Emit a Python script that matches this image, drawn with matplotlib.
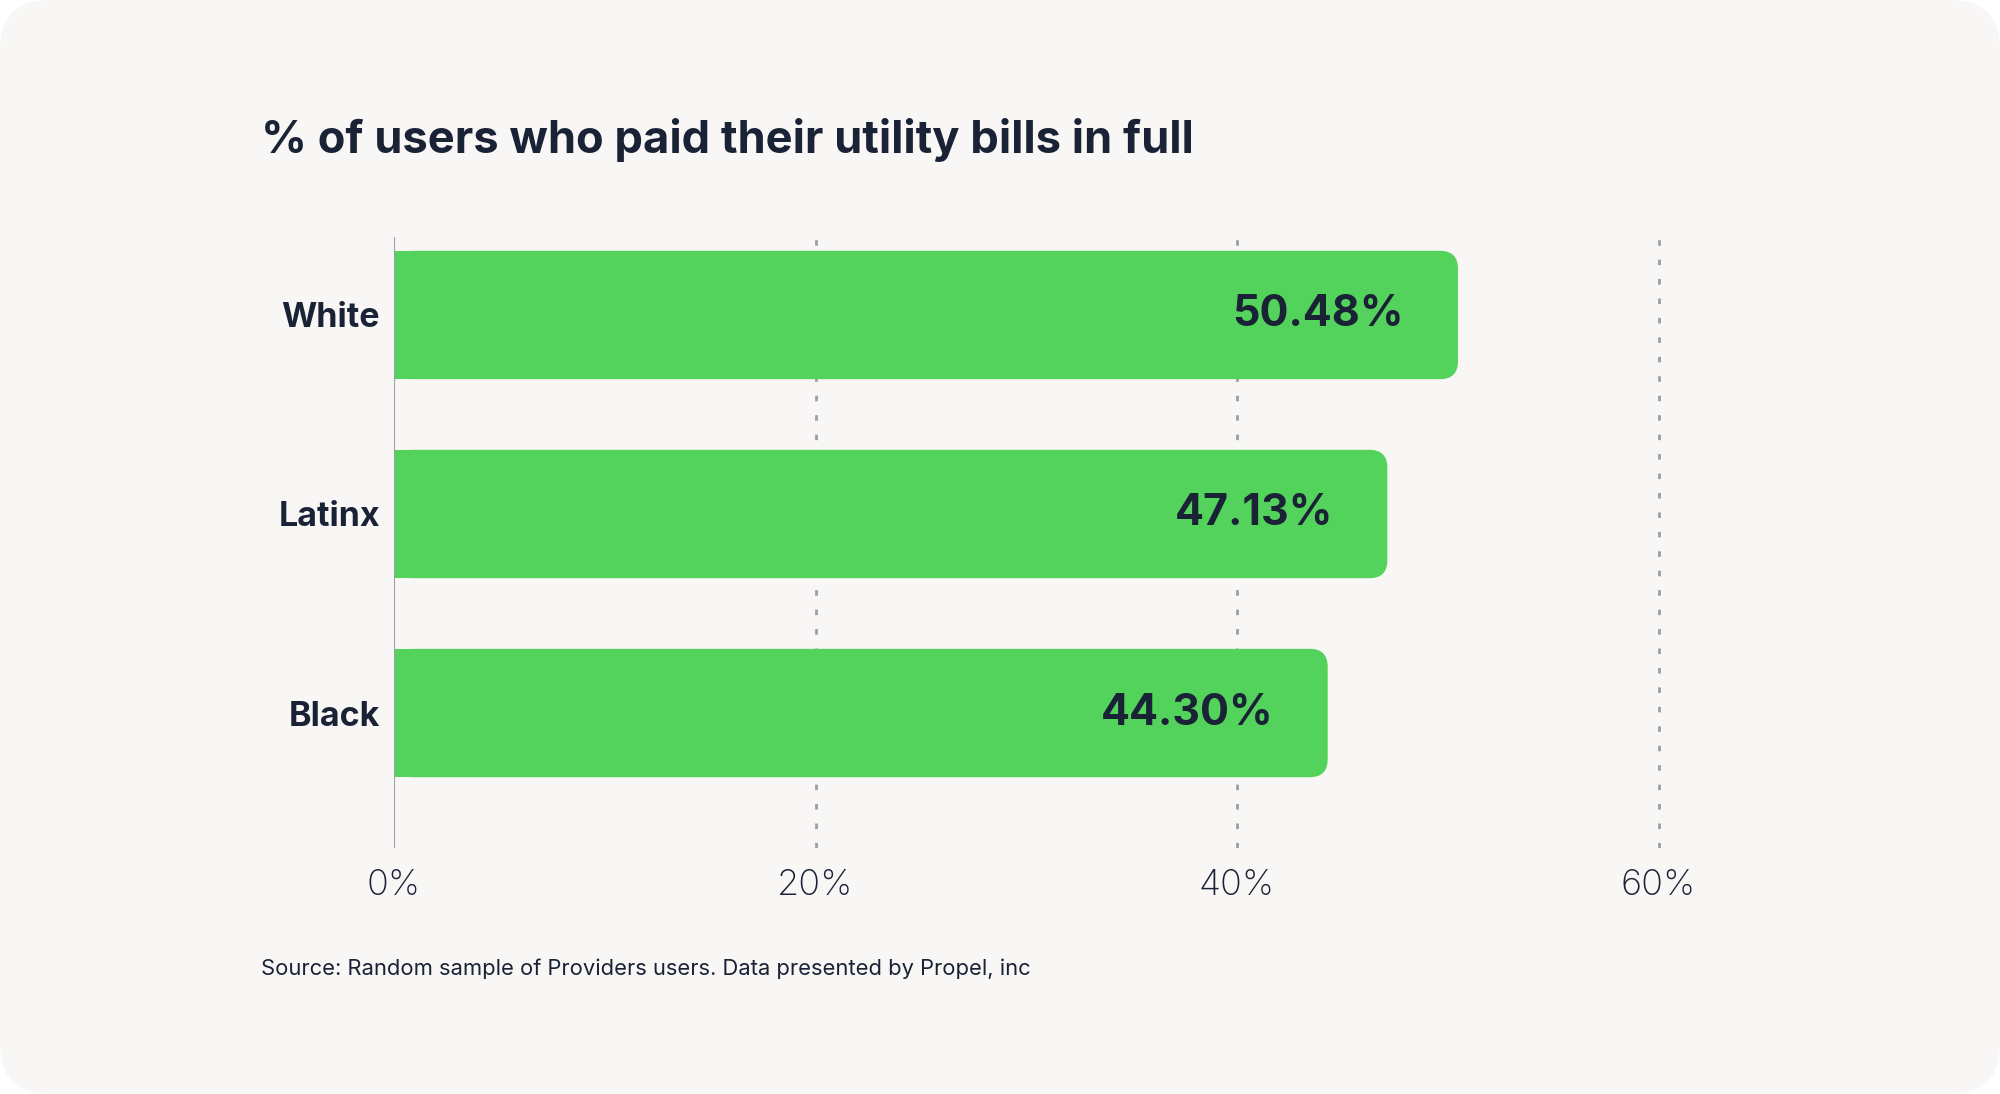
import matplotlib
matplotlib.use("Agg")
import matplotlib.pyplot as plt
from matplotlib.patches import FancyBboxPatch

# data
groups = ["White", "Latinx", "Black"]
paid_pct = [50.48, 47.13, 44.30]
pct_labels = ["50.48%", "47.13%", "44.30%"]
xticks = [0, 20, 40, 60]
xtick_labels = ["0%", "20%", "40%", "60%"]

title = "% of users who paid their utility bills in full"
source = "Source: Random sample of Providers users. Data presented by Propel, inc"

green = "#53D35B"
ink = "#1A2236"
bg = "#F8F7F5"

plt.rcParams["font.family"] = ["Inter", "DejaVu Sans"]

fig = plt.figure(figsize=(20, 10.94), dpi=100)
fig.patch.set_facecolor("white")

# rounded card behind everything
card = FancyBboxPatch((0.0, 0.0), 1.0, 1.0, boxstyle="round,pad=0,rounding_size=0.025",
                      transform=fig.transFigure, facecolor=bg, edgecolor="none",
                      mutation_aspect=2000 / 1094, zorder=-5)
fig.patches.append(card)

ax = fig.add_axes([0.197, 0.2249, 0.685, 0.5585])
ax.set_facecolor("none")

ypos = [2, 1, 0]
bar_h = 0.645
r = 0.85  # rounding in x units
aspect = 21.075 / 199.0

for y, v, lab in zip(ypos, paid_pct, pct_labels):
    # plain left half so only the right end looks rounded
    ax.barh(y, v / 2, height=bar_h, color=green, zorder=3)
    patch = FancyBboxPatch((0, y - bar_h / 2), v, bar_h,
                           boxstyle=f"round,pad=0,rounding_size={r}",
                           mutation_aspect=aspect, facecolor=green,
                           edgecolor="none", zorder=3)
    ax.add_patch(patch)
    ax.text(v - 2.55, y, lab, ha="right", va="center", fontsize=31,
            fontweight="bold", color=ink, zorder=4)

for t in xticks[1:]:
    ax.axvline(t, color="#9E9E9E", linewidth=2, linestyle=(0, (2, 5)), zorder=1)
ax.axvline(0, color="#9E9E9E", linewidth=1.5, zorder=4)

ax.set_xlim(0, 65)
ax.set_ylim(-0.678, 2.392)
ax.set_yticks(ypos)
ax.set_yticklabels(groups, fontsize=24.5, fontweight="bold", color=ink)
ax.set_xticks(xticks)
ax.set_xticklabels(xtick_labels, fontsize=26, fontweight="light", color=ink)
ax.tick_params(axis="y", length=0, pad=10)
ax.tick_params(axis="x", length=0, pad=15)
for s in ax.spines.values():
    s.set_visible(False)

fig.text(261 / 2000, 1 - 153 / 1094, title, fontsize=32.6, fontweight="bold",
         color=ink, ha="left", va="baseline")
fig.text(261 / 2000, 1 - 975 / 1094, source, fontsize=15.8, color=ink,
         ha="left", va="baseline")

fig.savefig("out.png", dpi=100, facecolor=fig.get_facecolor())
